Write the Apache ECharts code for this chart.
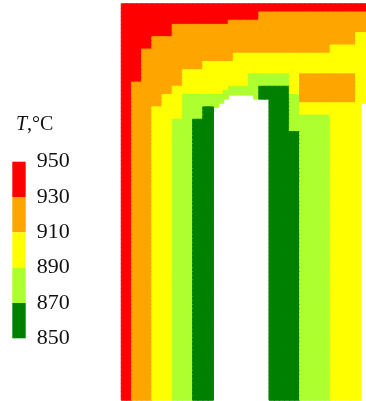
<!DOCTYPE html>
<html>
<head>
<meta charset="utf-8">
<script src="https://cdn.jsdelivr.net/npm/echarts@6/dist/echarts.min.js"></script>
<style>
  html, body { margin: 0; padding: 0; background: #ffffff; }
  #chart { width: 366px; height: 401px; }
</style>
</head>
<body>
<div id="chart"></div>
<script>
// Temperature bands of the colour scale (°C) and their colours, low to high
const legendTicks = [850, 870, 890, 910, 930, 950];
const bandColors = ['green', 'greenyellow', 'yellow', 'orange', 'red'];

// Representative temperature of each band code used in the field map
const bandTemps = { '1': 860, '2': 880, '3': 900, '4': 920, '5': 940 };

// Mesh size of the temperature field
const colCount = 48;

// Temperature field, top to bottom. Each entry: [runs along the row, number of rows].
// A run is "<band code>*<cells>"; "." marks cells outside the part (the slot).
const fieldRows = [
  ['5*48', 2],
  ['5*27 4*21', 2],
  ['5*21 4*27', 1],
  ['5*10 4*38', 2],
  ['5*10 4*36 3*2', 1],
  ['5*6 4*40 3*2', 2],
  ['5*6 4*35 3*7', 1],
  ['5*4 4*37 3*7', 1],
  ['5*4 4*18 3*26', 2],
  ['5*4 4*12 3*32', 2],
  ['5*4 4*8 3*36', 1],
  ['5*4 4*8 3*13 2*8 3*2 4*11 3*2', 2],
  ['5*2 4*10 3*13 2*8 3*2 4*11 3*2', 1],
  ['5*2 4*8 3*11 2*6 1*6 3*2 4*11 3*2', 1],
  ['5*2 4*8 3*10 2*7 1*6 3*2 4*11 3*2', 1],
  ['5*2 4*6 3*4 2*9 .*5 2*1 1*6 2*2 4*11 3*2', 1],
  ['5*2 4*6 3*4 2*8 .*9 1*4 2*2 4*11 3*2', 1],
  ['5*2 4*6 3*4 2*7 .*10 1*4 2*2 3*12 .*1', 1],
  ['5*2 4*4 3*6 2*4 1*2 .*11 1*4 2*2 3*12 .*1', 2],
  ['5*2 4*4 3*6 2*4 1*2 .*11 1*4 2*8 3*6 .*1', 1],
  ['5*2 4*4 3*4 2*4 1*4 .*11 1*4 2*8 3*6 .*1', 3],
  ['5*2 4*4 3*4 2*4 1*4 .*11 1*6 2*6 3*6 .*1', 65]
];

// Colour of the band a temperature falls in
function bandColor(t) {
  for (let i = 0; i < bandColors.length; i++) {
    if (t >= legendTicks[i] && t < legendTicks[i + 1]) return bandColors[i];
  }
  return bandColors[bandColors.length - 1];
}

// Expand the run-length rows into heatmap cells [col, row, temperature].
// Each cell gets a thin border in its own colour so neighbouring cells join without seams.
const cells = [];
let rowIndex = 0;
fieldRows.forEach(([runs, repeat]) => {
  const codes = [];
  runs.split(' ').forEach(run => {
    const [code, n] = run.split('*');
    for (let i = 0; i < Number(n); i++) codes.push(code);
  });
  for (let r = 0; r < repeat; r++) {
    codes.forEach((code, col) => {
      if (code === '.') return;
      const t = bandTemps[code];
      cells.push({
        value: [col, rowIndex, t],
        itemStyle: { borderColor: bandColor(t), borderWidth: 1 }
      });
    });
    rowIndex++;
  }
});
const rowCount = rowIndex;

const colNames = Array.from({ length: colCount }, (_, i) => String(i));
const rowNames = Array.from({ length: rowCount }, (_, i) => String(i));

const pieces = bandColors.map((color, i) => ({
  gte: legendTicks[i],
  lt: legendTicks[i + 1],
  color: color
}));

const serif = 'Liberation Serif, Times New Roman, serif';

const chart = echarts.init(document.getElementById('chart'), null, { renderer: 'canvas' });
chart.setOption({
  animation: false,
  backgroundColor: '#ffffff',
  title: {
    text: '{i|T},°C',
    left: 16,
    top: 115,
    padding: 0,
    textStyle: {
      fontFamily: serif,
      fontSize: 20,
      fontWeight: 'normal',
      color: '#111111',
      rich: {
        i: { fontFamily: serif, fontSize: 20, fontStyle: 'italic', color: '#111111' }
      }
    }
  },
  grid: [
    { left: 121.5, right: 0, top: 4, bottom: 1 },
    { left: 12.3, width: 13.4, top: 161.7, height: 176.6 }
  ],
  xAxis: [
    { gridIndex: 0, type: 'category', data: colNames, show: false },
    { gridIndex: 1, type: 'value', show: false, min: 0, max: 1 }
  ],
  yAxis: [
    { gridIndex: 0, type: 'category', data: rowNames, inverse: true, show: false },
    {
      gridIndex: 1,
      type: 'value',
      position: 'right',
      min: legendTicks[0],
      max: legendTicks[legendTicks.length - 1],
      interval: 20,
      axisLine: { show: false },
      axisTick: { show: false },
      splitLine: { show: false },
      axisLabel: { margin: 11, fontFamily: serif, fontSize: 22, color: '#111111' }
    }
  ],
  visualMap: {
    type: 'piecewise',
    seriesIndex: 0,
    dimension: 2,
    pieces: pieces,
    orient: 'vertical',
    left: 12.3,
    top: 161.7,
    itemWidth: 13.4,
    itemHeight: 35.32,
    itemGap: 0,
    itemSymbol: 'rect',
    showLabel: false,
    padding: 0,
    selectedMode: false,
    hoverLink: false
  },
  series: [{
    type: 'heatmap',
    xAxisIndex: 0,
    yAxisIndex: 0,
    data: cells,
    progressive: 0,
    emphasis: { disabled: true }
  }]
});
</script>
</body>
</html>
